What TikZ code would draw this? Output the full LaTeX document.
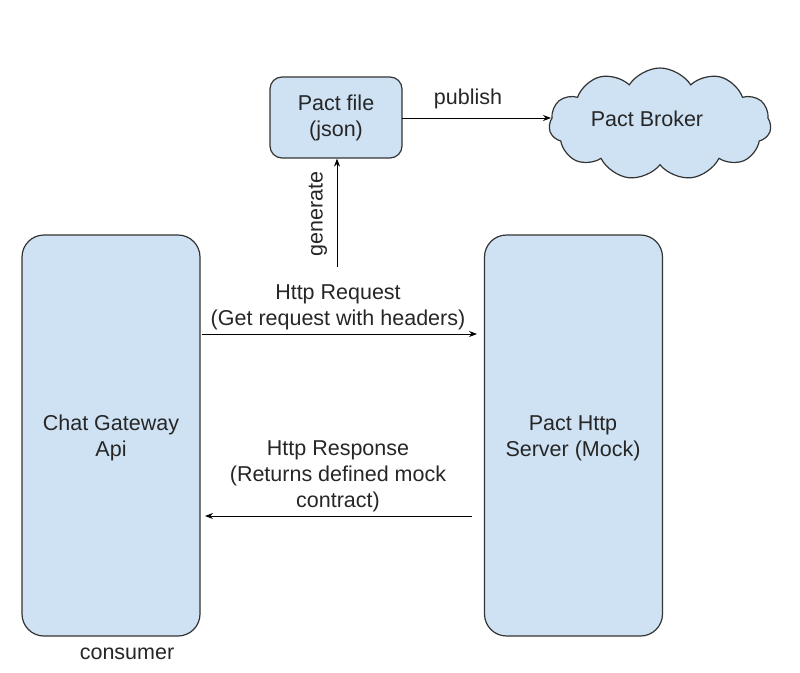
\documentclass[tikz,border=0pt]{standalone}
\usepackage{fontspec}
\setmainfont{Liberation Sans}
\usetikzlibrary{shapes.symbols,arrows.meta}
\definecolor{boxfill}{HTML}{CFE2F3}
\definecolor{boxline}{HTML}{333333}
\begin{document}
\begin{tikzpicture}[x=1pt,y=-1pt,
  font=\fontsize{21.5}{26}\selectfont,
  every node/.style={align=center,text=black!85},
  bigbox/.style={draw=boxline,fill=boxfill,line width=1.2pt,rounded corners=22pt,
    minimum width=178pt,minimum height=401pt,inner sep=0pt},
  filebox/.style={draw=boxline,fill=boxfill,line width=1.2pt,rounded corners=12pt,
    minimum width=132pt,minimum height=81pt,inner sep=0pt},
  cloudbox/.style={draw=boxline,fill=boxfill,line width=1.2pt,cloud,cloud puffs=11,
    cloud puff arc=115,aspect=2.1,minimum width=222pt,minimum height=112pt,inner sep=0pt},
  conn/.style={draw=black,line width=1pt,-{Stealth[length=8pt,width=6pt]}},
  lbl/.style={inner sep=0pt}]
\useasboundingbox (0,0) rectangle (800,672);
\node[bigbox] (chat) at (111,435.5) {};
\node[lbl] at (111,438) {Chat Gateway\\Api};
\node[bigbox] (mock) at (573.5,435.5) {};
\node[lbl] at (573,438) {Pact Http\\Server (Mock)};
\node[filebox] (file) at (336,117.5) {Pact file\\(json)};
\node[cloudbox] (broker) at (660,124) {};
\node[lbl] at (647,119) {Pact Broker};
\node[lbl] (consumer) at (127,654) {consumer};

\coordinate (reqs) at (202,334);
\coordinate (reqe) at (477,334);
\coordinate (ress) at (472,516);
\coordinate (rese) at (205,516);
\coordinate (gens) at (337,267);
\coordinate (pubs) at (402,118);
\coordinate (pube) at (551,118);

\draw[conn] (reqs) -- (reqe);
\node[lbl] (reqlbl) at (338,307) {Http Request\\(Get request with headers)};
\draw[conn] (ress) -- (rese);
\node[lbl] (reslbl) at (338,476) {Http Response\\(Returns defined mock\\contract)};
\draw[conn] (gens) -- (file.south -| gens);
\node[lbl,rotate=90] (genlbl) at (318,214) {generate};
\draw[conn] (pubs) -- (pube);
\node[lbl] (publbl) at (468,99) {publish};
\end{tikzpicture}
\end{document}
